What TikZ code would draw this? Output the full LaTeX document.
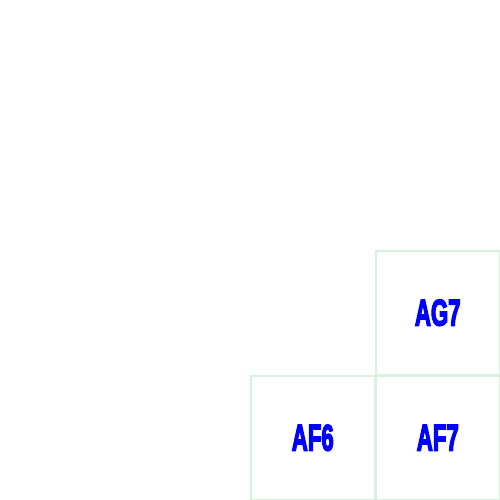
\documentclass[tikz,border=0pt]{standalone}
\usepackage{fontspec}
\newfontfamily\labelfont{Liberation Sans}[BoldFeatures={FakeBold=4.5}]
\begin{document}
\begin{tikzpicture}[x=1pt,y=-1pt,
  cell/.style={draw=gridgreen,line width=1.5pt,minimum width=124pt,minimum height=124pt,inner sep=0pt,anchor=north west},
  lbl/.style={text=blue,font=\labelfont\bfseries\fontsize{37}{37}\selectfont}]
\definecolor{gridgreen}{RGB}{215,242,222}
\useasboundingbox (0,0) rectangle (500,500);
\node[cell] (ag7) at (375,250) {};
\node[cell] (af6) at (250,375) {};
\node[cell] (af7) at (375,375) {};
\node[lbl] at (ag7.center) {\scalebox{0.6}[1]{AG7}};
\node[lbl] at (af6.center) {\scalebox{0.6}[1]{AF6}};
\node[lbl] at (af7.center) {\scalebox{0.6}[1]{AF7}};
\end{tikzpicture}
\end{document}
